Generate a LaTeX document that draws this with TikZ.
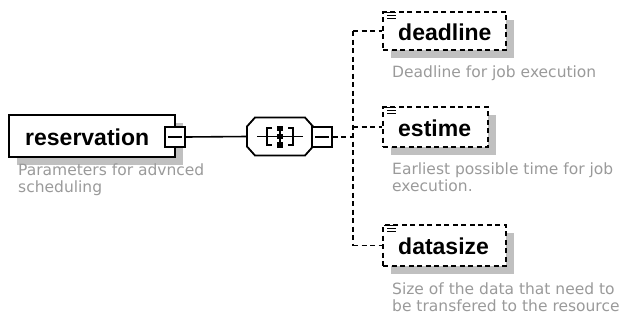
\documentclass[tikz,border=0pt]{standalone}
\usepackage{fontspec}
\setmainfont{Liberation Sans}
\newfontfamily\descfont{DejaVu Sans}
\usetikzlibrary{shadows}
\definecolor{shadowgray}{HTML}{C0C0C0}
\definecolor{descgray}{HTML}{9A9A9A}
\tikzset{
  shade7/.style={drop shadow={shadow xshift=7.5pt,shadow yshift=-7.5pt,fill=shadowgray,opacity=1}},
  solidbox/.style={draw=black,line width=1.8pt,fill=white,rectangle,inner sep=0pt,shade7},
  dashbox/.style={draw=black,line width=1.6pt,dash pattern=on 5pt off 3.5pt,fill=white,rectangle,inner sep=0pt,shade7},
  seqanchor/.style={rectangle,inner sep=0pt},
  minusbox/.style={draw=black,line width=1.6pt,fill=white,rectangle,inner sep=0pt,minimum width=20pt,minimum height=20pt},
  title/.style={anchor=base west,inner sep=0pt,font=\bfseries\fontsize{23}{26}\selectfont},
  desc/.style={anchor=base west,inner sep=0pt,text=descgray,font=\descfont\fontsize{15.5}{17.5}\selectfont},
  conn/.style={line width=1.6pt},
  dconn/.style={line width=1.6pt,dash pattern=on 5pt off 3.5pt},
  icon/.style={line width=1.3pt},
}
\begin{document}
\begin{tikzpicture}[x=1pt,y=-1pt]
\useasboundingbox (0,0) rectangle (621,322);
% reservation
\node[solidbox,minimum width=166pt,minimum height=42pt] (res) at (92,136) {};
\node[title] (resT) at (25,145) {reservation};
\node[minusbox] (resM) at (175,137) {};
\draw[line width=1.8pt] (resM.center)+(-7,0) -- +(7,0);
\node[desc] (resD1) at (18,175) {Parameters for advnced};
\node[desc] (resD2) at (18,192) {scheduling};
% sequence (octagon)
\node[seqanchor,minimum width=66pt,minimum height=38pt] (seq) at (280,136.5) {};
\fill[shadowgray,shift={(7.5,7.5)}] (seq.center) ++(-25,-19) -- ++(50,0) -- ++(8,9) -- ++(0,20) -- ++(-8,9) -- ++(-50,0) -- ++(-8,-9) -- ++(0,-20) -- cycle;
\draw[line width=1.8pt,fill=white] (seq.center) ++(-25,-19) -- ++(50,0) -- ++(8,9) -- ++(0,20) -- ++(-8,9) -- ++(-50,0) -- ++(-8,-9) -- ++(0,-20) -- cycle;
\draw[line width=1.5pt] (seq.center)+(-23,0) -- +(23,0);
\draw[line width=1.5pt] (seq.center)+(-8,-8.5) -- +(-13,-8.5) -- +(-13,8.5) -- +(-8,8.5);
\draw[line width=1.5pt] (seq.center)+(8,-8.5) -- +(13,-8.5) -- +(13,8.5) -- +(8,8.5);
\draw[line width=1.5pt] (seq.center)+(0,-10) -- +(0,10);
\fill (seq.center)+(-2.7,-11) rectangle +(2.7,-5.5);
\fill (seq.center)+(-2.7,-2.7) rectangle +(2.7,2.7);
\fill (seq.center)+(-2.7,5.5) rectangle +(2.7,11);
\node[minusbox] (seqM) at (322,137) {};
\draw[line width=1.8pt] (seqM.center)+(-7,0) -- +(7,0);
\draw[conn] (resM.east) -- (seq.west);
% children
\node[dashbox,minimum width=123pt,minimum height=38pt] (dl) at (444.5,31) {};
\node[dashbox,minimum width=105pt,minimum height=40pt] (es) at (435.5,127) {};
\node[dashbox,minimum width=123pt,minimum height=41pt] (ds) at (444.5,245.5) {};
\node[title] (dlT) at (398,40) {deadline};
\node[title] (esT) at (398,136) {estime};
\node[title] (dsT) at (398,254) {datasize};
\foreach \b in {dl,es,ds}{
  \fill[white] ([xshift=1pt,yshift=0pt]\b.north west) rectangle ++(14,-11);
  \draw[icon] ([xshift=2pt,yshift=-1.5pt]\b.north west) -- ++(12,0);
  \draw[icon] ([xshift=5pt,yshift=-4.5pt]\b.north west) -- ++(9,0);
  \draw[icon] ([xshift=5pt,yshift=-7.5pt]\b.north west) -- ++(9,0);
}
\node[desc] (dlD) at (392,77) {Deadline for job execution};
\node[desc] (esD1) at (392,174) {Earliest possible time for job};
\node[desc] (esD2) at (392,191) {execution.};
\node[desc] (dsD1) at (392,294) {Size of the data that need to};
\node[desc] (dsD2) at (392,311) {be transfered to the resource};
% connectors
\coordinate (J) at (353,137);
\coordinate (Jt) at (353,31);
\coordinate (Jb) at (353,245.5);
\draw[dconn] (seqM.east) -- (J);
\draw[dconn] (Jt) -- (Jb);
\draw[dconn] (Jt) -- (dl.west);
\draw[dconn] (J |- es.west) -- (es.west);
\draw[dconn] (Jb) -- (ds.west);
\end{tikzpicture}
\end{document}
